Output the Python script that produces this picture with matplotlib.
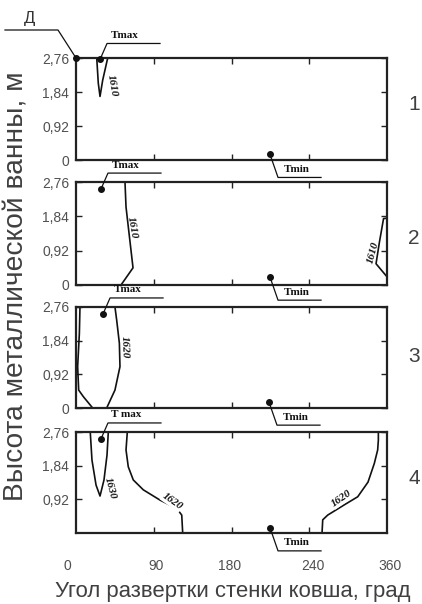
import matplotlib
matplotlib.use("Agg")
import matplotlib.pyplot as plt
from matplotlib.lines import Line2D
from matplotlib.transforms import IdentityTransform

plt.rcParams['font.family'] = ['Liberation Sans', 'DejaVu Sans']

# ---------------- data ----------------
y_ticks = [0, 0.92, 1.84, 2.76]
y_ticklabels = ["0", "0,92", "1,84", "2,76"]
x_ticks = [90, 180, 270]
x_label_pos = [-9.5, 93, 178, 274, 363]
x_ticklabels = ["0", "90", "180", "240", "360"]
panel_names = ["1", "2", "3", "4"]

# panel 1
p1_1610_x = [24.0, 25.8, 27.8, 30.9, 36.2, 37.0]
p1_1610_y = [2.76, 2.08, 1.72, 2.16, 2.71, 2.76]
# panel 2
p2_1610a_x = [56.7, 57.9, 66.0, 52.1]
p2_1610a_y = [2.76, 2.09, 0.46, 0.0]
p2_1610b_x = [360, 356.0, 351.1, 347.3, 360]
p2_1610b_y = [1.79, 1.78, 1.13, 0.57, 0.22]
# panel 3
p3_1620_x = [45.1, 47.1, 50.2, 50.9, 45.1, 35.5, 19.3, 8.5, 3.1, 1.9, 3.9, 4.6]
p3_1620_y = [2.76, 2.40, 1.77, 1.13, 0.49, 0.0, 0.0, 0.31, 0.49, 1.13, 2.04, 2.76]
# panel 4
p4_1630_x = [16.5, 18.5, 23.2, 27.8, 32.4, 35.9, 37.4]
p4_1630_y = [2.76, 1.99, 1.31, 1.01, 1.45, 2.13, 2.76]
p4_1620a_x = [59.4, 57.9, 60.5, 66.3, 77.9, 97.2, 116.6, 122.4, 123.5]
p4_1620a_y = [2.76, 2.27, 1.81, 1.45, 1.18, 0.90, 0.67, 0.49, 0.0]
p4_1620b_x = [350, 350, 349.2, 345.3, 338, 326.1, 310.6, 291.4, 285.6, 284.8]
p4_1620b_y = [2.76, 2.54, 2.27, 1.90, 1.39, 0.99, 0.77, 0.49, 0.36, 0.0]

tmax_x = [27.8, 28.9, 31.3, 28.9]
tmax_y = [2.72, 2.57, 2.57, 2.57]
tmax_text = ["Tmax", "Tmax", "Tmax", "T max"]
tmin_x = [224.6, 224.6, 223.4, 224.6]
tmin_y = [0.15, 0.21, 0.16, 0.14]

# contour labels: (panel, x, y, text, rotation, bbox)
clabels = [
    (0, 41.7, 2.00, "1610", -80, False),
    (1, 65.4, 1.55, "1610", -80, False),
    (1, 343.8, 0.86, "1610", 75, False),
    (2, 56.7, 1.67, "1620", -88, False),
    (3, 39.4, 1.23, "1630", -75, False),
    (3, 111.1, 0.85, "1620", -35, True),
    (3, 307.9, 0.93, "1620", 35, True),
]

W, H = 422, 604
fig = plt.figure(figsize=(W / 100, H / 100), dpi=100)
fig.patch.set_facecolor('white')

tops = [58, 182, 307, 432]
bots = [160, 285, 408, 533]
left_px, right_px = 76, 387
axes = []
gray = '#505050'
for i in range(4):
    ax = fig.add_axes([left_px / W, 1 - bots[i] / H, (right_px - left_px) / W, (bots[i] - tops[i]) / H])
    ax.set_xlim(0, 360)
    ax.set_ylim(0, 2.76)
    for s in ax.spines.values():
        s.set_linewidth(1.6)
        s.set_color('#222222')
    ax.set_xticks(x_ticks)
    ax.set_xticklabels([])
    if i == 3:
        ax.set_yticks(y_ticks[1:])
        ax.set_yticklabels(y_ticklabels[1:])
    else:
        ax.set_yticks(y_ticks)
        ax.set_yticklabels(y_ticklabels)
    ax.tick_params(direction='in', length=4, width=1, top=True, right=True,
                   labelsize=10, labelcolor=gray, pad=5, color='#222222')
    axes.append(ax)

lw = 1.2
axes[0].plot(p1_1610_x, p1_1610_y, color='#111111', lw=lw, clip_on=False)
axes[1].plot(p2_1610a_x, p2_1610a_y, color='#111111', lw=lw, clip_on=False)
axes[1].plot(p2_1610b_x, p2_1610b_y, color='#111111', lw=lw, clip_on=False)
axes[2].plot(p3_1620_x, p3_1620_y, color='#111111', lw=lw, clip_on=False)
axes[3].plot(p4_1630_x, p4_1630_y, color='#111111', lw=lw, clip_on=False)
axes[3].plot(p4_1620a_x, p4_1620a_y, color='#111111', lw=lw, clip_on=False)
axes[3].plot(p4_1620b_x, p4_1620b_y, color='#111111', lw=lw, clip_on=False)

serif = ['Liberation Serif', 'DejaVu Serif']
for (pi, x, y, t, rot, bb) in clabels:
    kw = {}
    if bb:
        kw['bbox'] = dict(facecolor='white', edgecolor='none', pad=0.3)
    axes[pi].text(x, y, t, rotation=rot, ha='center', va='center', fontsize=8,
                  family=serif, fontweight='bold', fontstyle='italic', color='#111111',
                  rotation_mode='anchor', **kw)


def leader(ax, x, y, d1, d2, text, tdx, tdy, dot=True, tfs=8, tfam=serif, tw='bold', tcolor='#111111'):
    px, py = ax.transData.transform((x, y))
    xs = [px, px + d1[0], px + d2[0]]
    ys = [py, py + d1[1], py + d2[1]]
    fig.add_artist(Line2D(xs, ys, transform=IdentityTransform(), color='#111111', lw=0.9))
    if dot:
        fig.add_artist(Line2D([px], [py], transform=IdentityTransform(), marker='o',
                              ms=4, color='#111111', lw=0))
    fig.text((px + tdx) / W, (py + tdy) / H, text, ha='center', va='center', fontsize=tfs,
             family=tfam, fontweight=tw, color=tcolor)


for i in range(4):
    leader(axes[i], tmax_x[i], tmax_y[i], (7, 16), (60, 16), tmax_text[i], 25, 24)
    leader(axes[i], tmin_x[i], tmin_y[i], (8, -23), (51, -23), "Tmin", 27, -15)

# "Д" leader at top-left corner of panel 1
leader(axes[0], 0, 2.76, (-18, 28), (-71, 28), "Д", -46, 40, dot=True, tfs=12,
       tfam=['Liberation Sans', 'DejaVu Sans'], tw='normal', tcolor='#333333')

# x tick labels (bottom panel)
for xp, t in zip(x_label_pos, x_ticklabels):
    px, _ = axes[3].transData.transform((xp, 0))
    fig.text(px / W, 1 - 566 / H, t, ha='center', va='center', fontsize=10, color=gray)

# panel numbers
num_y = [105, 238, 357, 478]
for ny, t in zip(num_y, panel_names):
    fig.text(414 / W, 1 - ny / H, t, ha='center', va='center', fontsize=15, color='#404040')

renderer = fig.canvas.get_renderer()
yl = fig.text(17 / W, 1 - 286 / H, "Высота металлической ванны, м", rotation=90,
              ha='center', va='center', fontsize=16, color='#404040')
xl = fig.text(233 / W, 1 - 591 / H, "Угол развертки стенки ковша, град",
              ha='center', va='center', fontsize=15, color='#404040')
bb = yl.get_window_extent(renderer)
yl.set_fontsize(16 * 428 / bb.height)
bb = xl.get_window_extent(renderer)
xl.set_fontsize(15 * 356 / bb.width)

fig.savefig('out.png', dpi=100)
